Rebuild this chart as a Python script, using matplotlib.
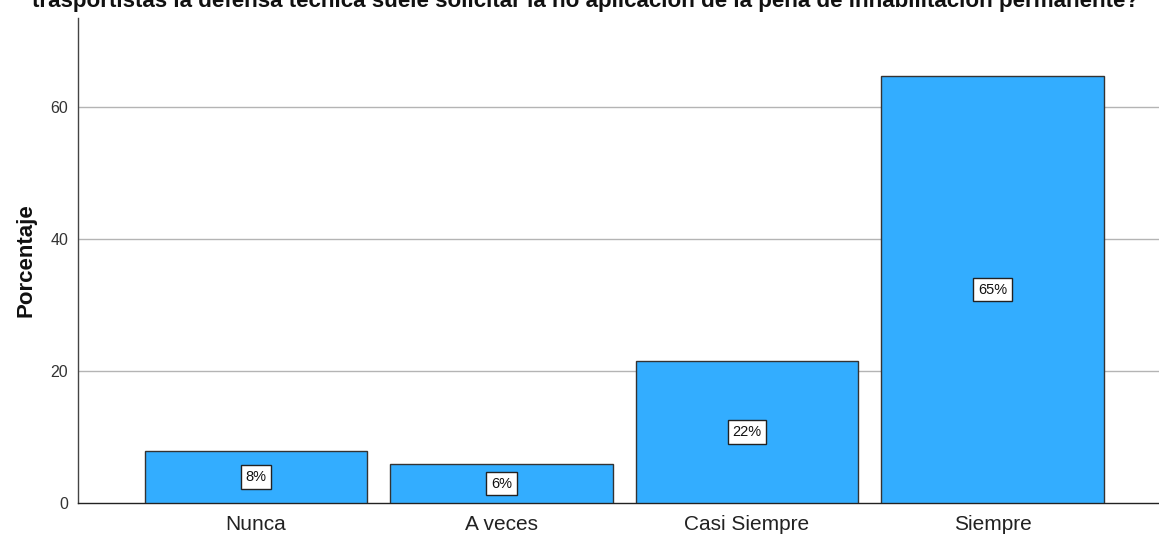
import matplotlib
matplotlib.use("Agg")
import matplotlib.pyplot as plt

categories = ["Nunca", "A veces", "Casi Siempre", "Siempre"]
counts = [4, 3, 11, 33]
total = sum(counts)
percentages = [c / total * 100 for c in counts]
labels = [f"{round(p):.0f}%" for p in percentages]
yticks = [0, 20, 40, 60]
title = "trasportistas la defensa técnica suele solicitar la no aplicación de la pena de inhabilitación permanente?"

plt.rcParams['font.family'] = ['Liberation Sans', 'DejaVu Sans']

fig = plt.figure(figsize=(11.59, 5.36), dpi=100)
ax = fig.add_axes([78/1159, 33/536, 1 - 78/1159, (503-18)/536])

x = list(range(len(categories)))
bars = ax.bar(x, percentages, width=0.905, color="#33adff", edgecolor="#333333",
              linewidth=1.0, zorder=3)
for xi, p, lab in zip(x, percentages, labels):
    ax.text(xi, p / 2, lab, ha="center", va="center", fontsize=10.5, color="#111111",
            zorder=4,
            bbox=dict(boxstyle="square,pad=0.33", facecolor="white", edgecolor="#222222", linewidth=1))

ax.set_xlim(-0.725, 3.678)
ax.set_ylim(0, 73.5)
ax.set_yticks(yticks)
ax.set_xticks(x)
ax.set_xticklabels(categories, fontsize=15, color="#222222")
ax.tick_params(axis="y", length=0, pad=7, labelsize=11.5, labelcolor="#333333")
ax.tick_params(axis="x", length=0, pad=9)
for t in yticks[1:]:
    ax.axhline(t, color="#b4b4b4", linewidth=1, zorder=1)
ax.spines["top"].set_visible(False)
ax.spines["right"].set_visible(False)
ax.spines["left"].set_color("#444444")
ax.spines["bottom"].set_color("#222222")
ax.spines["left"].set_linewidth(1)
ax.spines["bottom"].set_linewidth(1)
ax.set_ylabel("Porcentaje", fontsize=16, fontweight="bold", labelpad=10, color="#111111")

fig.text(585/1159, 1 - 7/536, title, ha="center", va="baseline", fontsize=16.1,
         fontweight="bold", color="#111111")

fig.savefig("out.png", dpi=100)
